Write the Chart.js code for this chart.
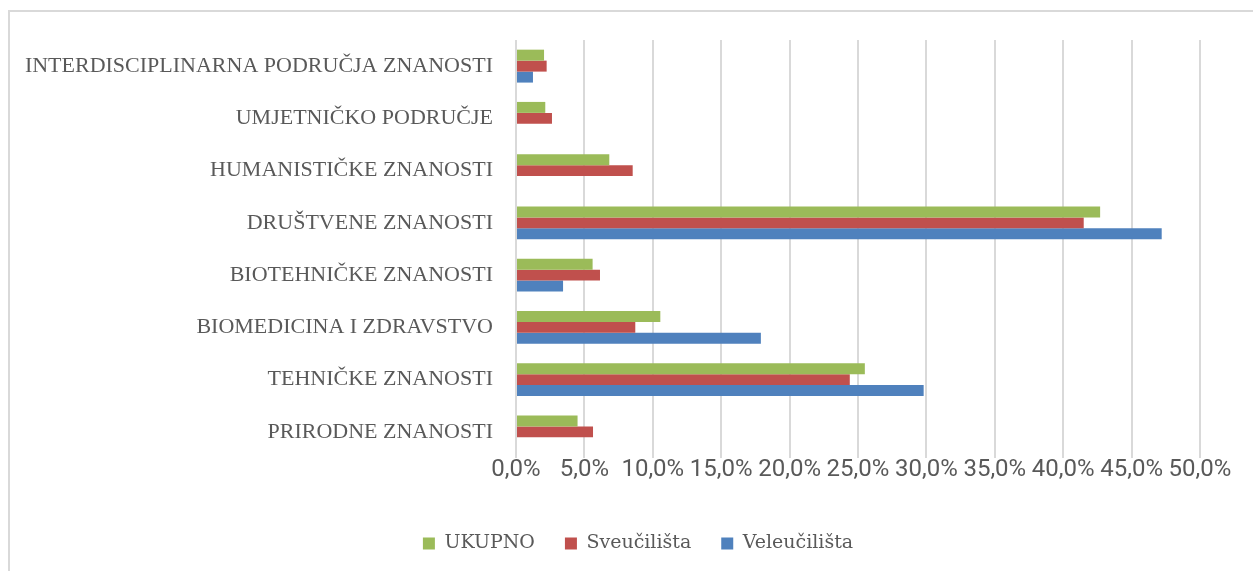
<!DOCTYPE html>
<html>
<head>
<meta charset="utf-8">
<script src="https://cdn.jsdelivr.net/npm/chart.js@4.4.1/dist/chart.umd.min.js"></script>
<style>
  html, body { margin: 0; padding: 0; background: #fff; }
  #frame {
    position: absolute; left: 8px; top: 10px; width: 1260px; height: 580px;
    border-left: 2px solid #d9d9d9; border-top: 2px solid #d9d9d9;
  }
  #wrap { position: absolute; left: 0; top: 0; width: 1253px; height: 571px; }
</style>
</head>
<body>
<div id="frame"></div>
<div id="wrap"><canvas id="chart-areas" width="1253" height="571"></canvas></div>
<script>
  const categories = [
    'INTERDISCIPLINARNA PODRUČJA ZNANOSTI',
    'UMJETNIČKO PODRUČJE',
    'HUMANISTIČKE ZNANOSTI',
    'DRUŠTVENE ZNANOSTI',
    'BIOTEHNIČKE ZNANOSTI',
    'BIOMEDICINA I ZDRAVSTVO',
    'TEHNIČKE ZNANOSTI',
    'PRIRODNE ZNANOSTI',
  ];
  const ukupno = [2.05, 2.14, 6.82, 42.7, 5.6, 10.55, 25.5, 4.5];
  const sveucilista = [2.24, 2.63, 8.53, 41.5, 6.14, 8.72, 24.4, 5.63];
  const veleucilista = [1.24, null, null, 47.2, 3.44, 17.9, 29.8, null];
  const xTicks = [0, 5, 10, 15, 20, 25, 30, 35, 40, 45, 50];

  const TEXT = '#595959';
  const GRID = '#d9d9d9';

  // legend in the original sits a bit right of the canvas centre
  const shiftLegend = {
    id: 'shiftLegend',
    afterLayout(chart) {
      chart.legend.left += 30;
      chart.legend.right += 30;
    },
  };

  new Chart(document.getElementById('chart-areas'), {
    type: 'bar',
    data: {
      labels: categories,
      datasets: [
        { label: 'UKUPNO', data: ukupno, backgroundColor: '#9bbb59' },
        { label: 'Sveučilišta', data: sveucilista, backgroundColor: '#c0504d' },
        { label: 'Veleučilišta', data: veleucilista, backgroundColor: '#4f81bd' },
      ],
    },
    plugins: [shiftLegend],
    options: {
      indexAxis: 'y',
      responsive: false,
      animation: false,
      devicePixelRatio: 1,
      barPercentage: 1,
      categoryPercentage: 0.63,
      layout: { padding: { left: 16, top: 40, right: 53, bottom: 8 } },
      plugins: {
        tooltip: { enabled: false },
        legend: {
          position: 'bottom',
          labels: {
            color: TEXT,
            boxWidth: 12,
            boxHeight: 12,
            padding: 30,
            font: { family: '"DejaVu Serif", serif', size: 19 },
          },
        },
      },
      scales: {
        x: {
          min: 0,
          max: 50,
          afterBuildTicks: (axis) => { axis.ticks = xTicks.map((v) => ({ value: v })); },
          ticks: {
            color: TEXT,
            autoSkip: false,
            maxRotation: 0,
            padding: -2,
            font: { family: 'Roboto, sans-serif', size: 24 },
            callback: (v) => Number(v).toFixed(1).replace('.', ',') + '%',
          },
          grid: { color: GRID, lineWidth: 2, drawTicks: false },
          border: { display: false },
          afterFit: (axis) => { axis.height = 46; },
        },
        y: {
          ticks: {
            color: TEXT,
            padding: 23,
            font: { family: '"Liberation Serif", serif', size: 22 },
          },
          grid: { display: false, drawTicks: false },
          border: { display: false },
          afterFit: (axis) => { axis.width = 500; },
        },
      },
    },
  });
</script>
</body>
</html>
